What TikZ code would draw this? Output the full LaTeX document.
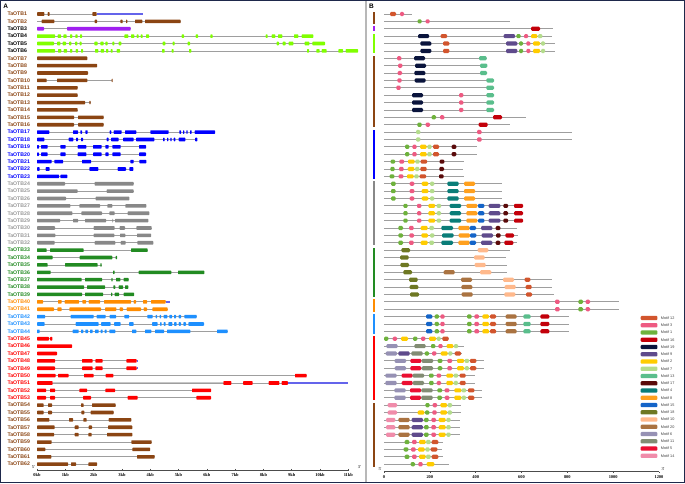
\documentclass[tikz,border=0pt]{standalone}
\usepackage{fontspec}
\setmainfont{Liberation Sans}
\newfontfamily\axfont{Liberation Serif}
\definecolor{cbrown}{RGB}{139,69,19}
\definecolor{cpurple}{RGB}{160,32,240}
\definecolor{clgreen}{RGB}{128,255,0}
\definecolor{cblue}{RGB}{0,0,255}
\definecolor{cgray}{RGB}{136,136,136}
\definecolor{cgreen}{RGB}{34,139,34}
\definecolor{corange}{RGB}{255,140,0}
\definecolor{cdodger}{RGB}{30,144,255}
\definecolor{cred}{RGB}{255,0,0}
\definecolor{cutr}{RGB}{100,100,235}
\definecolor{navy}{RGB}{30,40,75}
\definecolor{m12}{RGB}{210,85,45}
\definecolor{m3}{RGB}{238,90,130}
\definecolor{m1}{RGB}{110,178,60}
\definecolor{m16}{RGB}{195,0,10}
\definecolor{m19}{RGB}{10,20,60}
\definecolor{m9}{RGB}{95,75,140}
\definecolor{m2}{RGB}{255,204,0}
\definecolor{m7}{RGB}{180,220,140}
\definecolor{m13}{RGB}{90,190,140}
\definecolor{m17}{RGB}{90,10,10}
\definecolor{m4}{RGB}{10,125,120}
\definecolor{m8}{RGB}{255,160,30}
\definecolor{m15}{RGB}{20,100,200}
\definecolor{m18}{RGB}{110,120,35}
\definecolor{m10}{RGB}{255,185,140}
\definecolor{m20}{RGB}{170,115,65}
\definecolor{m6}{RGB}{150,145,180}
\definecolor{m11}{RGB}{130,140,115}
\definecolor{m5}{RGB}{235,15,50}
\definecolor{m14}{RGB}{240,140,170}
\tikzset{
  intron/.style={draw=black!38, line width=0.8pt},
  utr/.style={draw=cutr, line width=1.6pt},
  bline/.style={draw=black!38, line width=0.8pt},
  lab/.style={anchor=west, font=\fontsize{5.2}{6}\selectfont\bfseries, inner sep=0pt},
  leg/.style={anchor=west, font=\fontsize{3.8}{4.5}\selectfont, inner sep=0pt, text=black!75},
  axlab/.style={anchor=north, font=\axfont\fontsize{4.4}{5}\selectfont\bfseries, inner sep=0pt},
  endlab/.style={font=\axfont\fontsize{4.4}{5}\selectfont, inner sep=0pt},
  axline/.style={draw=black!70, line width=0.6pt}
}
\newcommand\gA[4]{%
  \pgfmathsetmacro\gy{14+(#1-1)*7.38}%
  \draw[intron] (37,\gy) -- ({#3/3},\gy);%
  \foreach \a/\b in {#4}{\fill[fill=#2,rounded corners=0.6pt] ({\a/3},\gy-1.8) rectangle ({\b/3},\gy+1.8);}%
}
\newcommand\uA[3]{%
  \pgfmathsetmacro\gy{14+(#1-1)*7.38}%
  \draw[utr] ({#2/3},\gy) -- ({#3/3},\gy);%
}
\newcommand\pB[3]{%
  \pgfmathsetmacro\gy{14+(#1-1)*7.38}%
  \draw[bline] (384,\gy) -- ({355+#2/3},\gy);%
  \foreach \a/\b/\m in {#3}{\fill[fill=m\m,rounded corners=1.2pt] ({355+\a/3},\gy-2.1) rectangle ({355+\b/3},\gy+2.1);}%
}
\newcommand\barB[3]{%
  \fill[fill=#1] (373,{14+(#2-1)*7.38-2.4}) rectangle (375,{14+(#3-1)*7.38+2.4});%
}
\begin{document}
\begin{tikzpicture}[x=1pt,y=-1pt]
\useasboundingbox (0,0) rectangle (685,483);
\fill[white] (0,0) rectangle (685,483);
% divider
\draw[black!28, line width=2pt] (366,0) -- (366,483);
% panel letters
\node[font=\fontsize{6.5}{7}\selectfont\bfseries, inner sep=0pt] (pa) at (5.7,6.3) {A};
\node[font=\fontsize{6.5}{7}\selectfont\bfseries, inner sep=0pt] (pbl) at (371.5,5.8) {B};
% gene labels
\foreach \i in {1,2,7,8,9,10,11,12,13,14,15,16,54,55,56,57,58,59,60,61,62}
  {\node[lab, text=cbrown] (l\i) at (7.3,{14+(\i-1)*7.38}) {TaOTB\i};}
\foreach \i in {3,4,5,6}
  {\node[lab, text=black] (l\i) at (7.3,{14+(\i-1)*7.38}) {TaOTB\i};}
\foreach \i in {17,...,23}
  {\node[lab, text=cblue] (l\i) at (7.3,{14+(\i-1)*7.38}) {TaOTB\i};}
\foreach \i in {24,...,32}
  {\node[lab, text=black!40] (l\i) at (7.3,{14+(\i-1)*7.38}) {TaOTB\i};}
\foreach \i in {33,...,39}
  {\node[lab, text=cgreen] (l\i) at (7.3,{14+(\i-1)*7.38}) {TaOTB\i};}
\foreach \i in {40,41}
  {\node[lab, text=corange] (l\i) at (7.3,{14+(\i-1)*7.38}) {TaOTB\i};}
\foreach \i in {42,43,44}
  {\node[lab, text=cdodger] (l\i) at (7.3,{14+(\i-1)*7.38}) {TaOTB\i};}
\foreach \i in {45,...,53}
  {\node[lab, text=cred] (l\i) at (7.3,{14+(\i-1)*7.38}) {TaOTB\i};}
% ---------- panel A genes ----------
\gA{1}{cbrown}{290}{111/133,143/149,277/290}
\uA{1}{290}{428}
\uA{2}{111}{125}
\gA{2}{cbrown}{542}{125/163,284/291,361/368,378/382,405/427,435/542}
\gA{3}{cpurple}{392}{111/132,201/392}
\gA{4}{clgreen}{940}{111/165,173/183,190/200,210/217,226/233,240/246,373/385,393/403,410/416,422/428,438/447,545/552,587/594,631/638,797/803,815/826,834/847,882/895,905/940}
\gA{5}{clgreen}{975}{111/162,171/181,188/198,207/214,225/232,239/245,283/293,301/311,316/323,337/343,356/364,488/496,518/524,563/570,830/837,848/857,866/880,914/928,937/975}
\gA{6}{clgreen}{1074}{111/165,174/184,191/201,210/217,227/234,243/249,285/295,302/312,318/325,332/338,350/360,486/494,515/521,567/574,921/927,949/959,965/980,1015/1029,1037/1074}
\gA{7}{cbrown}{262}{111/262}
\gA{8}{cbrown}{291}{111/291}
\gA{9}{cbrown}{264}{111/264}
\gA{10}{cbrown}{337}{111/140,171/262,335/338}
\gA{11}{cbrown}{233}{111/233}
\gA{12}{cbrown}{233}{111/233}
\gA{13}{cbrown}{272}{111/255,268/272}
\gA{14}{cbrown}{233}{111/233}
\gA{15}{cbrown}{311}{111/222,234/311}
\gA{16}{cbrown}{311}{111/222,234/311}
\gA{17}{cblue}{645}{111/148,219/234,241/246,256/263,329/334,341/365,375/409,451/506,538/543,549/553,559/563,570/575,584/645}
\gA{18}{cblue}{592}{111/133,206/220,228/234,243/249,320/326,333/356,369/401,408/463,489/494,501/505,511/515,521/526,536/556,585/592}
\gA{19}{cblue}{438}{111/117,123/143,181/197,233/259,279/305,316/326,337/362,417/438}
\gA{20}{cblue}{438}{111/117,123/143,181/197,233/259,279/305,316/326,337/362,417/438}
\gA{21}{cblue}{439}{111/155,163/189,246/273,391/401,418/439}
\gA{22}{cblue}{400}{111/119,137/149,268/295,353/378,388/400}
\gA{23}{cblue}{202}{111/177,181/202}
\gA{24}{cgray}{401}{111/195,284/401}
\gA{25}{cgray}{401}{111/233,320/401}
\gA{26}{cgray}{388}{111/198,287/388}
\gA{27}{cgray}{439}{111/211,238/300,322/337,376/439}
\gA{28}{cgray}{448}{111/217,244/306,328/344,383/448}
\gA{29}{cgray}{445}{111/180,219/234,255/318,337/339,345/445}
\gA{30}{cgray}{455}{111/165,281/344,359/375,409/455}
\gA{31}{cgray}{453}{111/166,281/343,360/376,411/453}
\gA{32}{cgray}{460}{111/164,284/346,362/377,412/460}
\gA{33}{cgreen}{443}{111/140,150/251,393/443}
\gA{34}{cgreen}{351}{111/158,239/337,347/351}
\gA{35}{cgreen}{305}{111/143,195/293,301/305}
\gA{36}{cgreen}{613}{111/152,339/344,416/514,534/613}
\gA{37}{cgreen}{386}{111/245,255/306,334/338,348/361,371/386}
\gA{38}{cgreen}{385}{111/252,261/315,340/346,356/369,375/385}
\gA{39}{cgreen}{402}{111/246,255/309,333/337,344/357,371/402}
\gA{40}{corange}{497}{111/129,174/185,194/237,247/258,266/300,312/393,401/408,429/441,453/497}
\uA{40}{497}{510}
\gA{41}{corange}{503}{111/162,172/185,208/303,315/349,359/369,380/423,431/441,457/503}
\gA{42}{cdodger}{590}{111/135,212/281,290/317,329/348,373/387,442/458,467/471,479/483,491/502,508/516,522/528,536/543,553/590}
\gA{43}{cdodger}{612}{111/134,227/296,303/332,342/362,387/401,456/473,480/485,491/497,505/517,522/530,536/543,550/558,565/612}
\gA{44}{cdodger}{683}{111/119,218/236,243/250,256/264,270/278,285/296,302/308,314/320,328/346,396/409,435/454,465/492,501/571,651/683}
\gA{45}{cred}{157}{111/147,150/157}
\gA{46}{cred}{216}{111/216}
\gA{47}{cred}{171}{111/171}
\gA{48}{cred}{410}{111/165,246/278,286/308,379/410}
\uA{48}{410}{414}
\gA{49}{cred}{410}{111/165,246/278,286/308,379/410}
\uA{49}{410}{414}
\gA{50}{cred}{920}{111/167,174/206,252/281,317/340,885/920}
\draw[black!22, line width=1.5pt] ({158/3},{14+50*7.38}) -- ({670/3},{14+50*7.38});
\gA{51}{cred}{864}{111/158,670/694,729/758,806/838,845/864}
\uA{51}{864}{1045}
\gA{52}{cred}{633}{111/138,150/165,238/261,316/345,576/633}
\gA{53}{cred}{633}{111/138,150/165,249/273,383/413,589/633}
\gA{54}{cbrown}{347}{111/131,144/156,243/251,276/347}
\gA{55}{cbrown}{341}{111/131,144/156,244/253,272/341}
\gA{56}{cbrown}{394}{111/148,207/219,250/260,326/394}
\gA{57}{cbrown}{397}{111/164,224/236,266/276,324/397}
\gA{58}{cbrown}{397}{111/162,224/236,265/275,321/397}
\gA{59}{cbrown}{455}{111/155,394/455}
\gA{60}{cbrown}{450}{111/136,397/450}
\gA{61}{cbrown}{464}{111/154,411/464}
\gA{62}{cbrown}{291}{111/204,213/228,265/291}
% axis A
\draw[axline] (37,470) -- (348.3,470);
\foreach \k in {0,...,11}{
  \draw[axline] ({37+\k*28.3},468.8) -- ({37+\k*28.3},471.2);
  \node[axlab] (ak\k) at ({37+\k*28.3},473.3) {\k kb};
}
\node[endlab] (a5) at (33.3,467.5) {5'};
\node[endlab] (a3) at (359.3,467.5) {3'};
% ---------- panel B ----------
\barB{cbrown}{1}{2}
\barB{cpurple}{3}{3}
\barB{clgreen}{4}{6}
\barB{cbrown}{7}{16}
\barB{cblue}{17}{23}
\barB{cgray}{24}{32}
\barB{cgreen}{33}{39}
\barB{corange}{40}{41}
\barB{cdodger}{42}{44}
\barB{cred}{45}{53}
\barB{cbrown}{54}{62}
\pB{1}{170}{105/123/12,135/147/3}
\pB{2}{465}{188/200/1,212/224/3}
\pB{3}{595}{528/555/16}
\pB{4}{592}{189/222/19,257/276/12,446/480/9,484/497/1,507/519/3,528/547/2,549/562/7}
\foreach \r in {5,6}{\pB{\r}{600}{196/229/19,264/283/12,453/487/9,492/504/1,514/526/3,534/555/2,558/570/7}}
\pB{7}{395}{126/139/3,177/210/19,372/395/13}
\pB{8}{397}{129/142/3,180/213/19,375/397/13}
\pB{9}{397}{128/141/3,178/211/19,375/396/13}
\pB{10}{418}{127/140/3,179/212/19,394/417/13}
\pB{11}{418}{124/137/3,394/417/13}
\foreach \r in {12,13,14}{\pB{\r}{418}{171/204/19,312/325/3,394/417/13}}
\pB{15}{512}{230/243/1,255/268/3,414/441/16}
\pB{16}{465}{187/200/1,212/225/3,371/398/16}
\foreach \r in {17,18}{\pB{\r}{652}{183/196/7,366/380/3}}
\foreach \r in {19,20}{\pB{\r}{365}{150/163/1,172/185/3,195/215/2,217/230/7,234/252/12,290/304/17}}
\pB{21}{328}{107/120/1,133/147/3,159/179/2,181/194/7,197/216/12,254/268/17}
\pB{22}{325}{106/119/1,132/146/3,158/178/2,180/193/7,196/215/12,253/267/17}
\pB{23}{328}{104/118/1,131/145/3,156/176/2,178/191/7,194/213/12,252/266/17}
\foreach \r in {24,25,26}{\pB{\r}{441}{108/122/1,164/178/3,200/220/2,225/238/7,277/311/4,327/360/8}}
\foreach \r in {27,28,29}{\pB{\r}{505}{145/158/1,186/199/3,220/240/2,245/258/7,284/318/4,334/367/8,369/388/15,401/436/9,445/459/17,477/504/16}}
\pB{30}{486}{130/144/1,162/176/3,197/218/2,223/237/7,259/294/4,310/344/8,344/363/15,378/412/9,422/436/17}
\pB{31}{488}{130/144/1,163/177/3,199/219/2,225/238/7,261/296/4,311/345/8,345/364/15,380/414/9,423/437/17,451/477/16}
\pB{32}{486}{130/144/1,162/176/3,197/218/2,223/237/7,259/294/4,310/344/8,344/363/15,378/412/9,422/436/17,448/475/16}
\pB{33}{465}{139/165/18,368/400/10}
\pB{34}{452}{135/161/18,357/389/10}
\pB{35}{455}{136/162/18,359/392/10}
\pB{36}{455}{145/171/18,266/299/20,375/409/10}
\pB{37}{592}{162/188/18,318/351/20,444/477/10,509/526/12}
\pB{38}{592}{164/190/18,319/352/20,449/482/10,512/530/12}
\pB{39}{596}{165/192/18,320/353/20,448/481/10,513/531/12}
\foreach \r in {40,41}{\pB{\r}{791}{600/614/3,670/684/1,692/705/3}}
\foreach \r in {42,43,44}{\pB{\r}{642}{213/232/15,239/252/1,256/269/3,336/350/1,358/372/3,382/402/2,405/423/12,452/485/20,505/527/13,556/583/16}}
\pB{45}{283}{87/100/1,113/126/3,138/159/2,174/187/1,198/211/3,222/243/2,245/257/7,262/281/12}
\pB{46}{328}{94/128/6,178/212/11,228/241/1,250/263/3,275/295/2,297/309/7}
\pB{47}{320}{92/126/6,130/164/9,169/203/11,209/222/1,231/244/3,257/278/2,280/292/7,299/318/12}
\foreach \r in {48,49}{\pB{\r}{388}{119/153/6,166/199/5,200/234/11,248/262/1,277/291/3,306/327/2,329/342/7,345/364/12}}
\foreach \r in {50,51}{\pB{\r}{360}{91/125/6,140/173/5,173/207/11,222/236/1,245/258/3,274/294/2,296/309/7,314/332/12}}
\foreach \r in {52,53}{\pB{\r}{380}{118/152/6,165/198/5,199/233/11,247/261/1,269/283/3,298/319/2,320/333/7,339/358/12}}
\pB{54}{318}{98/126/14,211/224/1,233/246/3,256/276/2,278/291/7}
\pB{55}{318}{98/126/14,188/208/2,210/223/1,232/245/3,256/276/2,278/291/7}
\foreach \r in {56,57,58}{\pB{\r}{315}{93/121/14,130/164/20,170/204/9,207/221/1,229/243/3,251/272/2,274/287/7}}
\foreach \r in {59,61}{\pB{\r}{263}{149/163/1,171/185/3,192/212/2,213/227/7,230/250/12}}
\pB{60}{260}{146/160/1,168/182/3,189/209/2,211/224/7,227/247/12}
\pB{62}{283}{167/180/1,190/203/3,215/238/2}
% axis B
\draw[axline] (384,471.7) -- (659,471.7);
\foreach \v [count=\k from 0] in {0,200,400,600,800,1000,1200}{
  \draw[axline] ({384+\k*45.83},471.7) -- ({384+\k*45.83},473.2);
  \node[axlab] (bk\k) at ({384+\k*45.83},475) {\v};
}
\node[endlab] (b5) at (380,469) {5'};
\node[endlab] (b3) at (663,469.5) {3'};
% legend
\foreach \m [count=\k from 0] in {12,3,1,16,19,9,2,7,13,17,4,8,15,18,10,20,6,11,5,14}{
  \pgfmathsetmacro\ly{318+\k*7.25}
  \fill[fill=m\m, rounded corners=1pt] (640.7,\ly-2.2) rectangle (657.3,\ly+2.2);
  \node[leg] (leg\m) at (660.7,\ly) {Motif \m};
}
% frame
\draw[navy, line width=1.4pt] (0.7,0.7) rectangle (684.3,482.3);
\end{tikzpicture}
\end{document}
